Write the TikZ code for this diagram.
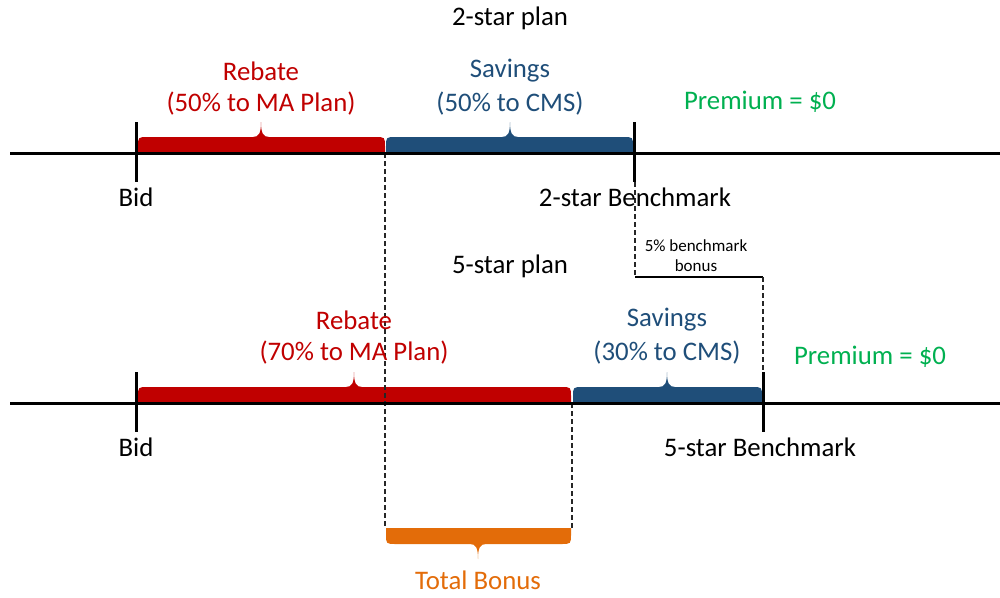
\documentclass[tikz,border=0pt]{standalone}
\usepackage{fontspec}
\setmainfont{Carlito}
\definecolor{cred}{HTML}{C00000}
\definecolor{cblue}{HTML}{1F4E79}
\definecolor{cgreen}{HTML}{00B050}
\definecolor{corange}{HTML}{E36C09}
\newcommand\mybrace[6]{% x1,x2,xm,base,sign,color
 \fill[#6] (#1,#4) -- (#1,{#4+#5*6}) .. controls (#1,{#4+#5*16}) .. ({#1+10},{#4+#5*16})
  -- ({#3-8},{#4+#5*16}) .. controls ({#3-2},{#4+#5*16}) and (#3,{#4+#5*20}) .. (#3,{#4+#5*31})
  .. controls (#3,{#4+#5*20}) and ({#3+2},{#4+#5*16}) .. ({#3+8},{#4+#5*16})
  -- ({#2-10},{#4+#5*16}) .. controls (#2,{#4+#5*16}) .. (#2,{#4+#5*6}) -- (#2,#4) -- cycle;}
\tikzset{
  axisline/.style={line width=3pt,black},
  tick/.style={line width=3pt,black},
  guide/.style={line width=1.2pt,black!85,dash pattern=on 5pt off 3pt},
  lbl/.style={inner sep=0pt,font=\fontsize{26.8}{30}\selectfont},
  small/.style={inner sep=0pt,font=\fontsize{17}{20}\selectfont,align=center},
}
\begin{document}
\begin{tikzpicture}[x=1pt,y=-1pt]
\useasboundingbox (0,0) rectangle (1000,597);
% braces
\mybrace{138}{385}{261}{153}{-1}{cred}
\mybrace{386}{633}{510}{153}{-1}{cblue}
\mybrace{138}{571}{354}{403}{-1}{cred}
\mybrace{573}{762}{667}{403}{-1}{cblue}
\mybrace{386}{571}{478}{528}{1}{corange}
% coordinates
\coordinate (l1a) at (10,153); \coordinate (l1b) at (1000,153);
\coordinate (l2a) at (10,403); \coordinate (l2b) at (1000,403);
\coordinate (t1a) at (136,122); \coordinate (t1b) at (136,182);
\coordinate (t2a) at (634,122); \coordinate (t2b) at (634,182);
\coordinate (t3a) at (136,372); \coordinate (t3b) at (136,432);
\coordinate (t4a) at (763,372); \coordinate (t4b) at (763,432);
\coordinate (d1a) at (385,153); \coordinate (d1b) at (385,528);
\coordinate (d2a) at (572,403); \coordinate (d2b) at (572,528);
\coordinate (b1) at (635,182); \coordinate (b2) at (635,277);
\coordinate (b3) at (763,277); \coordinate (b4) at (763,372);
% dashed guides
\draw[guide] (d1a) -- (d1b);
\draw[guide] (d2a) -- (d2b);
\draw[guide] (b1) -- (b2);
\draw[line width=1.2pt,black] (b2) -- (b3);
\draw[guide] (b3) -- (b4);
% axes and ticks
\draw[axisline] (l1a) -- (l1b);
\draw[axisline] (l2a) -- (l2b);
\draw[tick] (t1a) -- (t1b);
\draw[tick] (t2a) -- (t2b);
\draw[tick] (t3a) -- (t3b);
\draw[tick] (t4a) -- (t4b);
% texts
\node[lbl] (title2) at (510,18) {2-star plan};
\node[lbl,text=cred] (reb2) at (261,71) {Rebate};
\node[lbl,text=cred] (reb2b) at (261,104) {(50\% to MA Plan)};
\node[lbl,text=cblue] (sav2) at (510,71) {Savings};
\node[lbl,text=cblue] (sav2b) at (510,104) {(50\% to CMS)};
\node[lbl,text=cgreen] (prem2) at (760,102) {Premium = \$0};
\node[lbl] (bid2) at (136,197) {Bid};
\node[lbl] (bench2) at (635,197) {2-star Benchmark};
\node[small] (bonus5) at (696,256) {5\% benchmark\\bonus};
\node[lbl] (title5) at (510,266) {5-star plan};
\node[lbl,text=cred] (reb5) at (354,320) {Rebate};
\node[lbl,text=cred] (reb5b) at (354,353) {(70\% to MA Plan)};
\node[lbl,text=cblue] (sav5) at (667,320) {Savings};
\node[lbl,text=cblue] (sav5b) at (667,353) {(30\% to CMS)};
\node[lbl,text=cgreen] (prem5) at (870,357) {Premium = \$0};
\node[lbl] (bid5) at (136,447) {Bid};
\node[lbl] (bench5) at (760,447) {5-star Benchmark};
\node[lbl,text=corange] (tb) at (478,580) {Total Bonus};
\end{tikzpicture}
\end{document}
